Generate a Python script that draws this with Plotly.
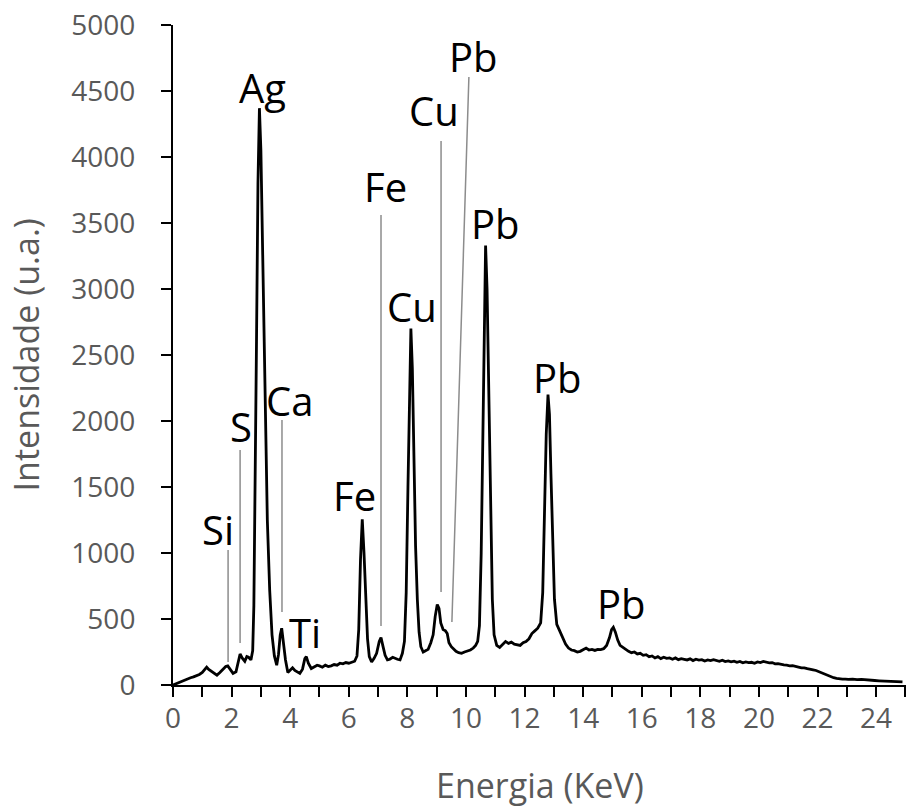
import plotly.graph_objects as go

# Spectrum (energy in keV, intensity in a.u.)
energy = [0.00, 0.10, 0.20, 0.30, 0.40, 0.50, 0.60, 0.70, 0.80, 0.90, 1.00, 1.10, 1.15, 1.22, 1.30, 1.40, 1.50, 1.60, 1.70, 1.80,
          1.87, 1.95, 2.05, 2.15, 2.22, 2.29, 2.36, 2.45, 2.52, 2.58, 2.66, 2.72, 2.76, 2.80, 2.85, 2.90, 2.95, 3.00, 3.05, 3.10,
          3.15, 3.22, 3.30, 3.38, 3.46, 3.54, 3.60, 3.66, 3.71, 3.77, 3.84, 3.92, 4.00, 4.08, 4.16, 4.25, 4.33, 4.42, 4.50, 4.55,
          4.62, 4.72, 4.82, 4.92, 5.00, 5.10, 5.20, 5.30, 5.40, 5.50, 5.60, 5.70, 5.80, 5.90, 6.00, 6.10, 6.20, 6.28, 6.34, 6.40,
          6.46, 6.52, 6.58, 6.64, 6.70, 6.78, 6.86, 6.95, 7.04, 7.10, 7.16, 7.24, 7.32, 7.40, 7.50, 7.58, 7.66, 7.75, 7.83, 7.90,
          7.96, 8.02, 8.08, 8.12, 8.17, 8.22, 8.28, 8.34, 8.40, 8.46, 8.54, 8.62, 8.71, 8.80, 8.88, 8.95, 9.02, 9.08, 9.14, 9.22,
          9.30, 9.36, 9.42, 9.50, 9.58, 9.66, 9.75, 9.85, 9.95, 10.05, 10.15, 10.25, 10.33, 10.40, 10.46, 10.52, 10.58, 10.63, 10.67, 10.72,
          10.78, 10.84, 10.90, 10.96, 11.05, 11.15, 11.25, 11.35, 11.45, 11.55, 11.65, 11.75, 11.85, 11.95, 12.05, 12.15, 12.25, 12.35, 12.45, 12.55,
          12.62, 12.68, 12.74, 12.80, 12.85, 12.90, 12.96, 13.02, 13.10, 13.20, 13.30, 13.40, 13.50, 13.60, 13.70, 13.80, 13.90, 14.00, 14.10, 14.20,
          14.30, 14.40, 14.50, 14.60, 14.70, 14.80, 14.90, 14.97, 15.03, 15.10, 15.18, 15.26, 15.35, 15.45, 15.55, 15.65, 15.75, 15.85, 15.95, 16.05,
          16.15, 16.25, 16.35, 16.45, 16.55, 16.65, 16.75, 16.85, 16.95, 17.05, 17.15, 17.25, 17.35, 17.45, 17.55, 17.65, 17.75, 17.85, 17.95, 18.05,
          18.15, 18.25, 18.35, 18.45, 18.55, 18.65, 18.75, 18.85, 18.95, 19.05, 19.15, 19.25, 19.35, 19.45, 19.55, 19.65, 19.75, 19.85, 19.95, 20.05,
          20.15, 20.25, 20.35, 20.45, 20.55, 20.65, 20.75, 20.85, 20.95, 21.05, 21.15, 21.25, 21.35, 21.45, 21.55, 21.65, 21.75, 21.85, 21.95, 22.05,
          22.15, 22.25, 22.35, 22.45, 22.55, 22.65, 22.75, 22.85, 22.95, 23.05, 23.20, 23.35, 23.50, 23.65, 23.80, 23.95, 24.10, 24.25, 24.40, 24.55,
          24.70, 24.90]
intensity = [0, 10, 18, 25, 35, 48, 55, 62, 70, 80, 95, 125, 135, 118, 105, 85, 75, 95, 115, 140,
             145, 115, 88, 100, 180, 235, 205, 180, 215, 210, 190, 260, 600, 1300, 2600, 3800, 4370, 4050, 3350, 2600,
             1950, 1250, 720, 380, 220, 150, 230, 380, 430, 300, 190, 95, 110, 130, 110, 100, 88, 120, 200, 215,
             165, 125, 140, 150, 145, 135, 150, 140, 145, 155, 150, 165, 160, 170, 165, 175, 180, 220, 420, 950,
             1255, 1000, 620, 350, 215, 175, 200, 240, 330, 360, 300, 225, 190, 195, 210, 200, 195, 190, 240, 330,
             700, 1500, 2300, 2700, 2400, 1700, 1050, 650, 400, 290, 250, 260, 270, 320, 380, 520, 610, 580, 470, 420,
             410, 390, 320, 290, 270, 255, 245, 240, 250, 255, 265, 280, 300, 330, 450, 1000, 2000, 2900, 3330, 3000,
             2100, 1200, 650, 380, 300, 285, 310, 330, 315, 325, 310, 305, 300, 320, 330, 350, 390, 410, 430, 470,
             700, 1300, 1900, 2200, 2050, 1600, 1000, 650, 460, 410, 360, 310, 280, 265, 260, 250, 255, 270, 280, 265,
             270, 262, 270, 268, 275, 300, 360, 420, 437, 400, 340, 300, 285, 270, 255, 245, 250, 235, 240, 225,
             230, 214, 220, 205, 215, 200, 210, 202, 205, 195, 205, 192, 200, 195, 190, 198, 185, 195, 189, 192,
             182, 190, 185, 192, 186, 180, 188, 178, 183, 175, 180, 172, 178, 168, 175, 169, 172, 165, 175, 170,
             178, 172, 168, 170, 160, 162, 155, 152, 150, 145, 146, 138, 136, 130, 130, 124, 122, 115, 110, 100,
             92, 80, 72, 62, 55, 50, 46, 44, 45, 42, 44, 40, 42, 38, 36, 34, 32, 30, 28, 26,
             25, 24]

# Element labels (text, energy, intensity)
label_text = ["Ag", "Pb", "Cu", "Fe", "Pb", "Cu", "Ca", "S", "Pb", "Si", "Fe", "Ti", "Pb"]
label_x = [3.04, 10.27, 8.91, 7.24, 11.02, 8.16, 3.99, 2.32, 13.11, 1.54, 6.18, 4.51, 15.32]
label_y = [4530, 4760, 4356, 3773, 3500, 2864, 2159, 1955, 2326, 1175, 1439, 401, 621]

# Leader lines (x0, y0, x1, y1) in data units
leader_x0 = [1.88, 2.29, 3.72, 7.10, 9.15, 10.10]
leader_y0 = [1023, 1780, 2008, 3561, 4121, 4606]
leader_x1 = [1.88, 2.29, 3.72, 7.10, 9.15, 9.52]
leader_y1 = [174, 318, 553, 447, 705, 477]

FONT = "Open Sans"
GRAY = "#595959"

fig = go.Figure()
fig.add_trace(go.Scatter(x=energy, y=intensity, mode="lines",
                         line=dict(color="black", width=2.8), showlegend=False,
                         hoverinfo="skip"))

for x0, y0, x1, y1 in zip(leader_x0, leader_y0, leader_x1, leader_y1):
    fig.add_shape(type="line", xref="x", yref="y", x0=x0, y0=y0, x1=x1, y1=y1,
                  line=dict(color="#8c8c8c", width=1.5), layer="below")

for t, x, y in zip(label_text, label_x, label_y):
    fig.add_annotation(x=x, y=y, xref="x", yref="y", text=t, showarrow=False,
                       font=dict(family=FONT, size=40, color="black"),
                       xanchor="center", yanchor="middle")

fig.add_annotation(text="Energia (KeV)", xref="paper", yref="paper", x=0.5, y=-0.151,
                   showarrow=False, xanchor="center", yanchor="middle",
                   font=dict(family=FONT, size=34, color=GRAY))
fig.add_annotation(text="Intensidade (u.a.)", xref="paper", yref="paper", x=-0.2, y=0.5,
                   showarrow=False, xanchor="center", yanchor="middle", textangle=-90,
                   font=dict(family=FONT, size=34, color=GRAY))

axis_common = dict(showgrid=False, zeroline=False, showline=True, linecolor="black",
                   linewidth=2, ticks="outside", ticklen=10, tickwidth=2, tickcolor="black",
                   tickfont=dict(family=FONT, size=28, color=GRAY))

fig.update_xaxes(range=[0, 25.02], tick0=0, dtick=2, ticklabelstandoff=-3,
                 minor=dict(ticks="outside", dtick=1, ticklen=10, tickwidth=2, tickcolor="black"),
                 **axis_common)
fig.update_yaxes(range=[0, 5000], tick0=0, dtick=500, ticklabelstandoff=20, **axis_common)

fig.update_layout(width=906, height=809, margin=dict(l=173, r=0, t=25, b=124),
                  plot_bgcolor="white", paper_bgcolor="white")

fig.write_html("out.html")
